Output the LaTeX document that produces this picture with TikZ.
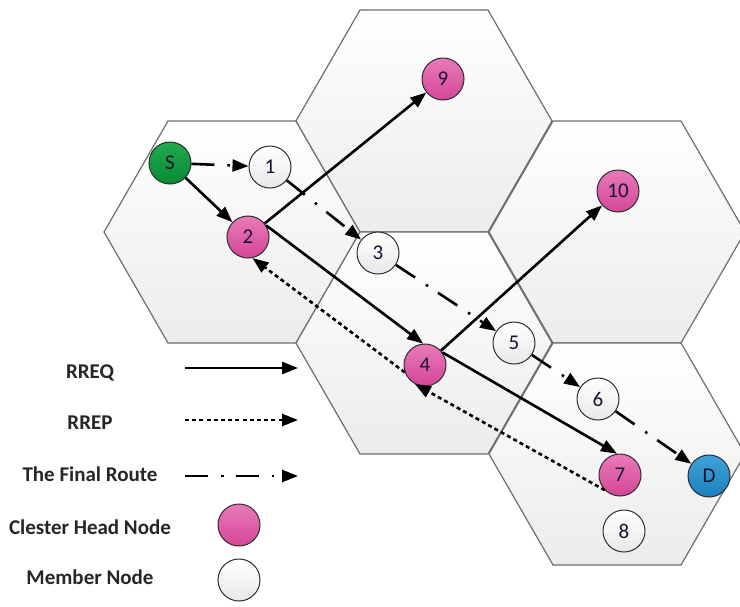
\documentclass[tikz,border=0pt]{standalone}
\usepackage{fontspec}
\setmainfont{Carlito}
\usetikzlibrary{arrows.meta}

\definecolor{hexedge}{RGB}{110,110,110}
\definecolor{hexlow}{RGB}{236,236,236}
\definecolor{chtop}{RGB}{232,122,186}
\definecolor{chbot}{RGB}{212,70,152}
\definecolor{srctop}{RGB}{34,170,80}
\definecolor{srcbot}{RGB}{6,138,50}
\definecolor{dsttop}{RGB}{64,162,216}
\definecolor{dstbot}{RGB}{28,128,190}
\definecolor{memlow}{RGB}{232,232,232}
\definecolor{ringcol}{RGB}{45,45,45}
\definecolor{labelcol}{RGB}{25,20,50}

\tikzset{
  cell/.style={draw=hexedge, line width=1.2pt, top color=white, bottom color=hexlow},
  basenode/.style={circle, minimum size=42pt, inner sep=0pt, draw=ringcol,
    line width=1pt, font=\fontsize{21}{21}\selectfont, text=labelcol},
  head/.style={basenode, top color=chtop, bottom color=chbot},
  member/.style={basenode, top color=white, bottom color=memlow},
  source/.style={basenode, top color=srctop, bottom color=srcbot},
  sink/.style={basenode, top color=dsttop, bottom color=dstbot},
  tip/.style={-{Triangle[length=16pt,width=12pt]}},
  req/.style={tip, line width=2.6pt},
  rep/.style={tip, line width=2.6pt, dash pattern=on 4pt off 3.2pt},
  route/.style={tip, line width=2.6pt, dash pattern=on 23pt off 13pt on 2.5pt off 12pt},
  legtext/.style={font=\fontsize{21}{21}\selectfont\bfseries, text=black!85,
    inner sep=0pt, text height=13pt, text depth=0pt, anchor=center}
}

\begin{document}
\begin{tikzpicture}[x=1pt, y=-1pt]
\useasboundingbox (0,0) rectangle (740,606);

% hexagonal cells
\begin{scope}
  \clip (0,0) rectangle (740,606);
  \foreach \cx/\cy in {232/232, 424/121, 617/232, 424/343, 617/454} {
    \path[cell] (\cx+128,\cy) -- (\cx+64,\cy+111) -- (\cx-64,\cy+111)
      -- (\cx-128,\cy) -- (\cx-64,\cy-111) -- (\cx+64,\cy-111) -- cycle;
  }
\end{scope}

% network nodes
\node[source] (S)   at (170,163) {S};
\node[member] (n1)  at (270,167) {1};
\node[head]   (n2)  at (248,237) {2};
\node[member] (n3)  at (378,253) {3};
\node[head]   (n4)  at (425,365) {4};
\node[member] (n5)  at (514,343) {5};
\node[member] (n6)  at (598,399) {6};
\node[head]   (n7)  at (620,475) {7};
\node[member] (n8)  at (624,531) {8};
\node[head]   (n9)  at (443,79)  {9};
\node[head]   (n10) at (618,191) {10};
\node[sink]   (D)   at (709,476) {D};

% route requests
\draw[req] (S) -- (n2);
\draw[req] (n2) -- (n9);
\draw[req] (n2.33) -- (n4.95);
\draw[req] (n4) -- (n10);
\draw[req] (n4.36) -- (n7.98);

% route replies
\draw[rep] (n7.225) -- (n4.242);
\draw[rep] (n4.200) -- (n2.282);

% final route
\draw[route] (S) -- (n1);
\draw[route] (n1) -- (n3);
\draw[route] (n3) -- (n5);
\draw[route] (n5) -- (n6);
\draw[route] (n6) -- (D);

% legend
\node[legtext] (lreq)   at (90,372) {RREQ};
\node[legtext] (lrep)   at (90,423) {RREP};
\node[legtext] (lroute) at (90,475) {The Final Route};
\node[legtext] (lhead)  at (90,528) {Clester Head Node};
\node[legtext] (lmem)   at (90,578) {Member Node};

\coordinate (aq0) at (185,368); \coordinate (aq1) at (298,368);
\coordinate (ap0) at (185,420); \coordinate (ap1) at (298,420);
\coordinate (ar0) at (185,476); \coordinate (ar1) at (298,476);
\draw[req]   (aq0) -- (aq1);
\draw[rep]   (ap0) -- (ap1);
\draw[route] (ar0) -- (ar1);

\node[head]   (khead) at (239,525) {};
\node[member] (kmem)  at (239,580) {};
\end{tikzpicture}
\end{document}
